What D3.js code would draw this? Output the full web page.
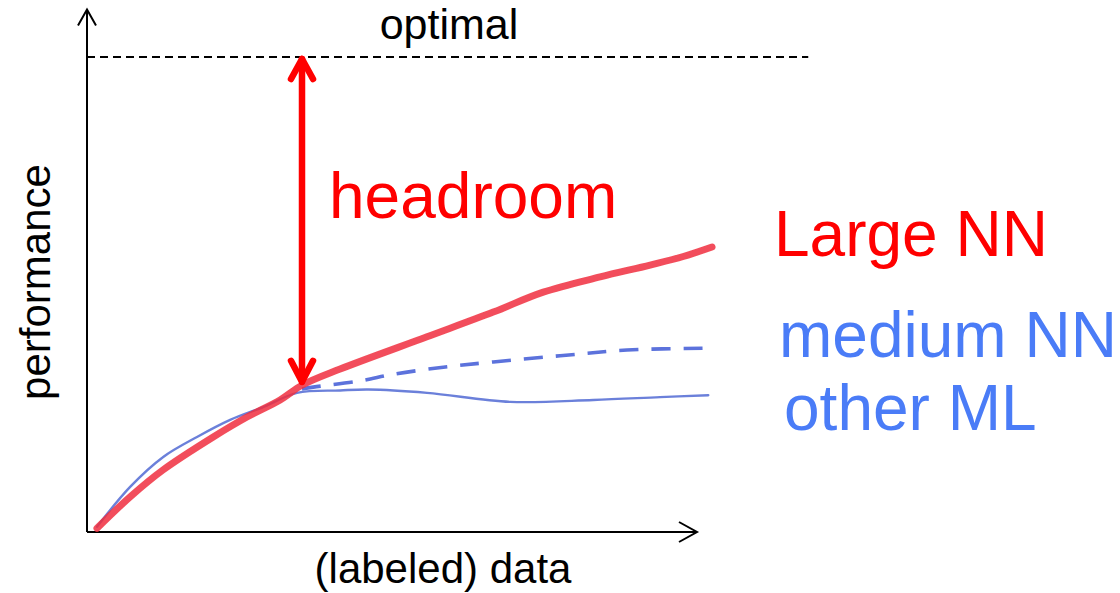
<!DOCTYPE html>
<html>
<head>
<meta charset="utf-8">
<script src="https://cdn.jsdelivr.net/npm/d3@7"></script>
<style>
  html, body { margin: 0; padding: 0; background: #fff; }
  svg { display: block; }
  text { font-family: "Liberation Sans", Arial, sans-serif; }
</style>
</head>
<body>
<svg id="chart" width="1120" height="593"></svg>
<script>
// Performance vs. amount of labeled data (sketch-style curves, arbitrary units)
const largeNN_x  = [1.6, 6.9, 12.2, 20.2, 25.6, 30.9, 34.4, 40.5, 54.4, 65.0, 73.0, 82.1, 90.1, 95.4, 100];
const largeNN_y  = [0.8, 7.4, 13.1, 20.0, 24.2, 27.8, 30.9, 34.3, 41.1, 46.3, 50.5, 53.7, 56.2, 58.0, 60.0];

const otherML_x  = [1.6, 6.9, 12.2, 17.6, 22.9, 28.2, 33.6, 40.5, 45.0, 54.4, 67.7, 81.0, 91.7, 99.4];
const otherML_y  = [1.1, 9.5, 15.8, 20.0, 23.6, 26.3, 29.3, 29.8, 30.0, 29.3, 27.4, 27.8, 28.4, 28.8];

const mediumNN_x = [34.4, 36.2, 43.7, 49.0, 57.0, 65.0, 75.7, 86.4, 99.7];
const mediumNN_y = [30.1, 30.5, 31.8, 33.2, 34.7, 35.8, 37.1, 38.3, 38.7];

const optimal = 100;        // performance ceiling
const headroomAt = 34.4;    // data amount where the headroom arrow is drawn
const headroomBottom = 31.2;
const xAxisMax = 97.6;
const yAxisMax = 110;
const optimalLineEnd = 115.4;

const svg = d3.select("#chart");

const x = d3.scaleLinear().domain([0, 100]).range([87, 712]);
const y = d3.scaleLinear().domain([0, 100]).range([532, 57]);

// soft edge for the hand-drawn curves
const defs = svg.append("defs");
defs.append("filter").attr("id", "soft")
  .append("feGaussianBlur").attr("stdDeviation", 0.6);

// axes
const axes = svg.append("g").attr("stroke", "#000").attr("stroke-width", 2).attr("fill", "none");
axes.append("line").attr("x1", x(0)).attr("y1", y(0)).attr("x2", x(0)).attr("y2", y(yAxisMax));
axes.append("line").attr("x1", x(0)).attr("y1", y(0)).attr("x2", x(xAxisMax)).attr("y2", y(0));
axes.append("path")
  .attr("d", `M${x(0) - 9},${y(yAxisMax) + 16} L${x(0)},${y(yAxisMax)} L${x(0) + 9},${y(yAxisMax) + 16}`);
axes.append("path")
  .attr("d", `M${x(xAxisMax) - 18},${y(0) - 10} L${x(xAxisMax)},${y(0)} L${x(xAxisMax) - 18},${y(0) + 10}`);

// optimal line
svg.append("line")
  .attr("x1", x(0)).attr("x2", x(optimalLineEnd))
  .attr("y1", y(optimal)).attr("y2", y(optimal))
  .attr("stroke", "#000").attr("stroke-width", 1.8)
  .attr("stroke-dasharray", "8,5");

svg.append("text")
  .attr("x", 449).attr("y", 39)
  .attr("text-anchor", "middle")
  .attr("font-size", 43)
  .attr("fill", "#000")
  .text("optimal");

// curves
const line = d3.line().curve(d3.curveCatmullRom.alpha(0.5));
const pts = (xs, ys) => xs.map((v, i) => [x(v), y(ys[i])]);

const curves = svg.append("g").attr("fill", "none").attr("stroke-linecap", "round")
  .attr("stroke-linejoin", "round").attr("filter", "url(#soft)");

curves.append("path")
  .attr("d", line(pts(otherML_x, otherML_y)))
  .attr("stroke", "#5b72d6").attr("stroke-width", 2.4).attr("opacity", 0.9);

curves.append("path")
  .attr("d", line(pts(mediumNN_x, mediumNN_y)))
  .attr("stroke", "#5b72dc").attr("stroke-width", 3.6)
  .attr("stroke-linecap", "butt")
  .attr("stroke-dasharray", "19,13");

curves.append("path")
  .attr("d", line(pts(largeNN_x, largeNN_y)))
  .attr("stroke", "#f0303e").attr("stroke-width", 7).attr("opacity", 0.85);

// headroom arrow
const arrow = svg.append("g")
  .attr("stroke", "#ff0000").attr("stroke-width", 6.5).attr("fill", "none")
  .attr("stroke-linecap", "round").attr("stroke-linejoin", "round");
const ax = x(headroomAt), yTop = y(optimal), yBot = y(headroomBottom);
arrow.append("line").attr("x1", ax).attr("x2", ax).attr("y1", yTop + 2).attr("y2", yBot - 2);
arrow.append("path").attr("d", `M${ax - 11},${yTop + 22} L${ax},${yTop + 2} L${ax + 11},${yTop + 22}`);
arrow.append("path").attr("d", `M${ax - 11},${yBot - 23} L${ax},${yBot - 2} L${ax + 11},${yBot - 23}`);

svg.append("text")
  .attr("x", 329).attr("y", 218)
  .attr("font-size", 64).attr("fill", "#ff0000")
  .text("headroom");

// series labels
const labels = [
  { text: "Large NN",  x: 774, y: 256, color: "#ff0000" },
  { text: "medium NN", x: 779, y: 357, color: "#4a7cf7" },
  { text: "other ML",  x: 784, y: 430, color: "#4a7cf7" }
];
svg.append("g").selectAll("text").data(labels).join("text")
  .attr("x", d => d.x).attr("y", d => d.y)
  .attr("font-size", 64).attr("fill", d => d.color)
  .text(d => d.text);

// axis titles
svg.append("text")
  .attr("x", 443).attr("y", 583)
  .attr("text-anchor", "middle")
  .attr("font-size", 42).attr("fill", "#000")
  .text("(labeled) data");

svg.append("text")
  .attr("transform", "translate(50,282) rotate(-90)")
  .attr("text-anchor", "middle")
  .attr("font-size", 42).attr("fill", "#000")
  .text("performance");
</script>
</body>
</html>
